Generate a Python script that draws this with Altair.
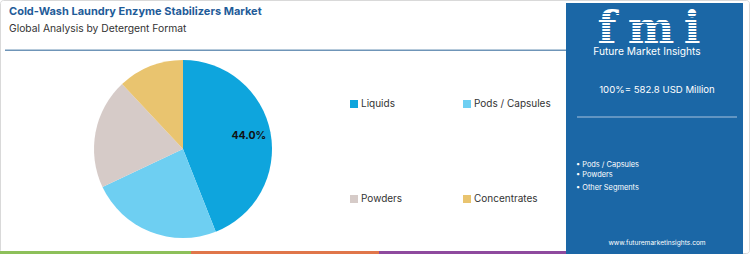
import altair as alt
import pandas as pd

# ---- data ----
categories = ["Liquids", "Pods / Capsules", "Powders", "Concentrates"]
shares = [44.0, 24.0, 20.0, 12.0]
colors = ["#0ea5dd", "#6ecff2", "#d6cbc8", "#e9c46f"]
labels = ["44.0%", "", "", ""]

title = "Cold-Wash Laundry Enzyme Stabilizers Market"
subtitle = "Global Analysis by Detergent Format"
total_text = "100%= 582.8 USD Million"
bullets = ["• Pods / Capsules", "• Powders", "• Other Segments"]
url = "www.futuremarketinsights.com"

FONT = "Inter"
PANEL = "#1b67a6"

pie_df = pd.DataFrame({"cat": categories, "share": shares, "label": labels,
                       "order": list(range(len(categories)))})
one = pd.DataFrame({"a": [0]})

def rect(x, x2, y, y2, color, **kw):
    return alt.Chart(one).mark_rect(color=color, **kw).encode(
        x=alt.value(x), x2=alt.value(x2), y=alt.value(y), y2=alt.value(y2))

def text(t, x, y, size, color, align="left", weight="normal", font=FONT, baseline="middle"):
    return alt.Chart(one).mark_text(text=t, align=align, baseline=baseline, fontSize=size,
                                    color=color, fontWeight=weight, font=font).encode(
        x=alt.value(x), y=alt.value(y))

layers = []
# outer border
layers.append(alt.Chart(one).mark_rect(fill="white", stroke="#d9d9d9", strokeWidth=1,
                                       cornerRadius=3).encode(
    x=alt.value(0.5), x2=alt.value(749.5), y=alt.value(0.5), y2=alt.value(253.5)))
# titles
layers.append(text(title, 9, 12, 11, "#1f5c99", weight="bold"))
layers.append(text(subtitle, 9, 29, 10.3, "#333333"))
layers.append(rect(5, 566, 49.5, 51, "#6f95b8"))

# pie
color_scale = alt.Scale(domain=categories, range=colors)
base = alt.Chart(pie_df).encode(
    theta=alt.Theta("share:Q", stack=True),
    order=alt.Order("order:Q"),
)
layers.append(base.mark_arc(outerRadius=89).encode(
    color=alt.Color("cat:N", scale=color_scale, legend=None),
    x=alt.value(183), y=alt.value(149)))
layers.append(base.mark_text(radius=67, fontSize=10.5, fontWeight="bold", font=FONT,
                             color="#111111").encode(
    text="label:N", x=alt.value(183), y=alt.value(149)))

# legend (manual 2x2)
leg_pos = [(354, 104), (467, 104), (354, 199), (467, 199)]
for i, cat in enumerate(categories):
    x, y = leg_pos[i]
    layers.append(rect(x - 4, x + 4, y - 4, y + 4, colors[i]))
    layers.append(text(cat, x + 7, y, 10, "#333333"))

# right panel
layers.append(rect(566, 743, 3, 254, PANEL))
# logo: "fmi" with stripes
for ch, cx in [("f", 607), ("m", 651), ("i", 692)]:
    layers.append(text(ch, cx, 43, 44, "white", align="center", weight="bold",
                       font="DejaVu Serif", baseline="alphabetic"))
for k in range(11):
    yy = 13 + k * 3
    layers.append(rect(588, 712, yy, yy + 1, PANEL))
layers.append(text("Future Market Insights", 647, 52, 10.2, "white", align="center"))
layers.append(text(total_text, 657, 90, 9.6, "white", align="center"))
layers.append(rect(577, 737, 116.5, 117.5, "#a9c4de"))
for i, b in enumerate(bullets):
    layers.append(text(b, 576, [165, 175, 188][i], 7.4, "white"))
layers.append(text(url, 657, 243, 6.6, "white", align="center"))

# bottom strips
layers.append(rect(0, 191, 251, 254, "#8dc05a"))
layers.append(rect(191, 379, 251, 254, "#e0764a"))
layers.append(rect(379, 566, 251, 254, "#8e4a9e"))

chart = alt.layer(*layers).properties(
    width=750, height=254, padding=0, autosize="none"
).configure_view(stroke=None)

chart.save("out.html", embed_options={"renderer": "svg", "actions": False})
